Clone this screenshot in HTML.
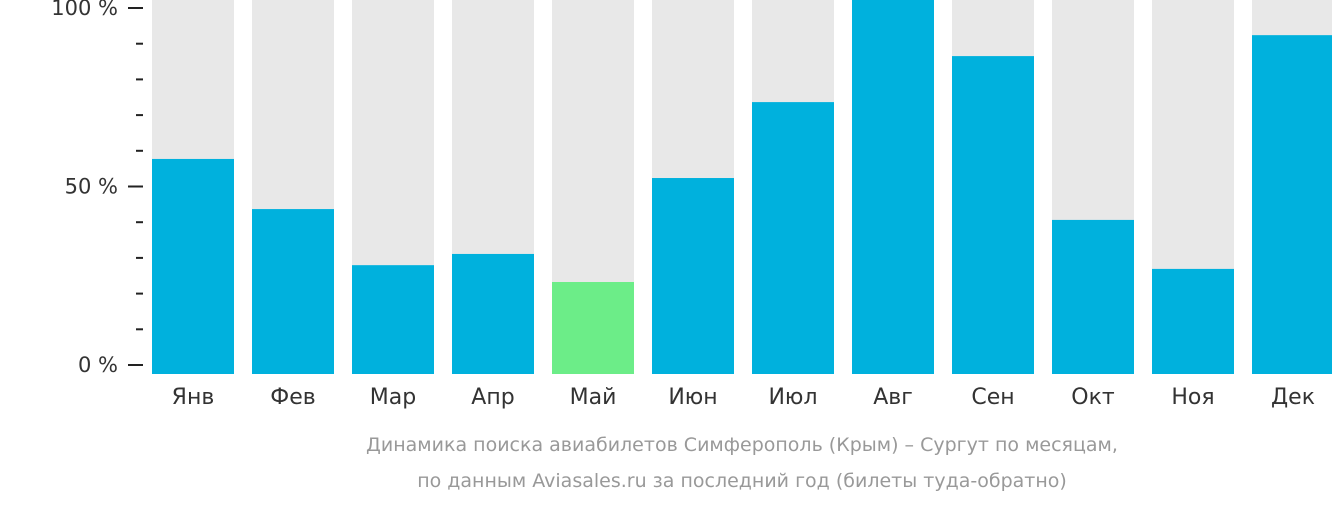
<!DOCTYPE html>
<html><head><meta charset="utf-8"><style>
body{margin:0;background:#fff;width:1332px;height:502px;overflow:hidden}
svg text{font-family:"DejaVu Sans","Liberation Sans",sans-serif}
</style></head><body>
<svg id="chart" width="1332" height="502" xmlns="http://www.w3.org/2000/svg">
<g id="axis"></g>
<g id="bars"></g>
<g id="xlabels"></g>
<text x="742" y="451" text-anchor="middle" font-size="19" fill="#999">Динамика поиска авиабилетов Симферополь (Крым) – Сургут по месяцам,</text>
<text x="742" y="487" text-anchor="middle" font-size="19" fill="#999">по данным Aviasales.ru за последний год (билеты туда-обратно)</text>
</svg>
<script>
const months=["Янв","Фев","Мар","Апр","Май","Июн","Июл","Авг","Сен","Окт","Ноя","Дек"];
const values=[57.5,44.1,29.1,32.1,24.6,52.4,72.7,100,85.0,41.2,28.1,90.6];
const highlight=[4];
const tickLabels=["0 %","50 %","100 %"];
const NS="http://www.w3.org/2000/svg";
function yBar(v){return 374-v*3.74;}
function yTick(v){return 365-v*3.57;}
function xBar(i){return 152+i*100;}
function mk(t,a,p){const e=document.createElementNS(NS,t);for(const k in a)e.setAttribute(k,a[k]);p.appendChild(e);return e;}
const bars=document.getElementById('bars'),xl=document.getElementById('xlabels'),ax=document.getElementById('axis');
values.forEach((v,i)=>{
 const bg=mk('rect',{x:xBar(i),y:0,width:82,height:374,fill:'#e8e8e8'},bars);
 
 
 const r=mk('rect',{x:xBar(i),y:yBar(v),width:82,height:374-yBar(v),fill:highlight.includes(i)?'#6ced88':'#00b1dd'},bars);
 
 
 const t=mk('text',{x:xBar(i)+41,y:404,'text-anchor':'middle','font-size':22,fill:'#333'},xl);
 t.textContent=months[i];
 
 
});
for(let k=0;k<=10;k++){
 const v=k*10,y=yTick(v),major=k%5===0;
 const l=mk('line',{x1:major?128:136,x2:143,y1:y,y2:y,stroke:'#222','stroke-width':2},ax);
 
 
 if(major){
  const t=mk('text',{x:118,y:y+7,'text-anchor':'end','font-size':21,fill:'#333'},ax);
  t.textContent=tickLabels[k/5];
  
  
 }
}
</script>
</body></html>
